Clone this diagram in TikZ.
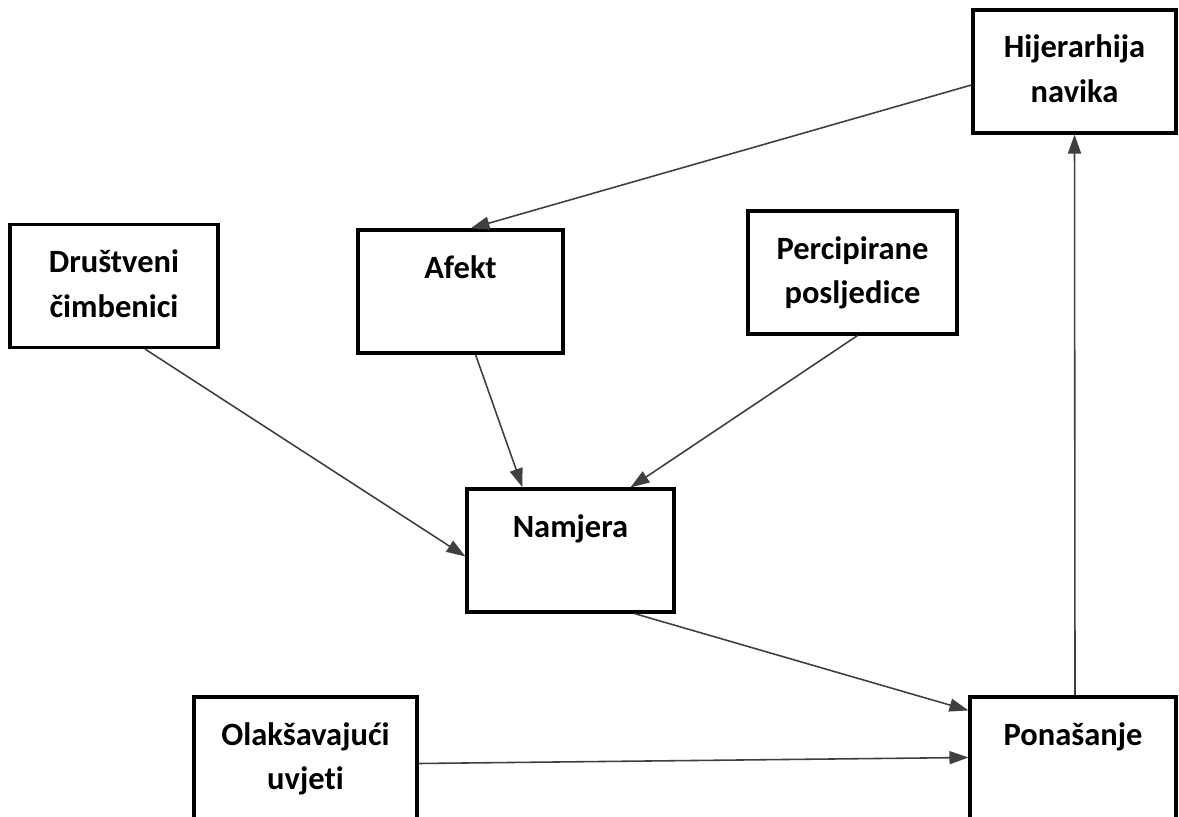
\documentclass[tikz,border=0pt]{standalone}
\usepackage{fontspec}
\setmainfont{Carlito}[Ligatures=CommonOff]
\usepackage{tikz}
\usetikzlibrary{calc,arrows.meta}

\tikzset{
    blok/.style={draw, line width=1.8pt, inner xsep=0pt, inner ysep=0pt, align=center,
        text height=0.96cm, text depth=1.5cm, text width=#1,
        font=\fontsize{18.5}{25.6}\selectfont\bfseries},
    strelica/.style={line width=0.9pt, draw=black!75, -{Triangle[length=0.38cm, width=0.26cm]}}
}

\begin{document}
\begin{tikzpicture}[x=0.02cm, y=-0.02cm]
                            \clip (0,0) rectangle (1179,817);
                            \fill[white] (0,0) rectangle (1179,817);

                            \node[blok=4.06cm] (hijerarhija) at (1074.5,71.5) {Hijerarhija\\navika};
                            \node[blok=4.16cm] (drustveni) at (114,286) {Društveni\\čimbenici};
                            \node[blok=4.10cm] (afekt) at (460.5,291.5) {Afekt};
                            \node[blok=4.18cm] (percipirane) at (852.5,272.5) {Percipirane\\posljedice};
                            \node[blok=4.14cm] (namjera) at (570.5,550.5) {Namjera};
                            \node[blok=4.46cm] (olaksavajuci) at (305.5,758.5) {Olakšavajući\\uvjeti};
                            \node[blok=4.12cm] (ponasanje) at (1073,758.5) {Ponašanje};

                            % veze izmedu blokova
                            \draw[strelica] ($(hijerarhija.west)+(0,13.5)$) -- ($(afekt.north)+(10,0)$);
                            \draw[strelica] ($(drustveni.south)+(31,0)$) -- ($(namjera.west)+(0,6)$);
                            \draw[strelica] ($(afekt.south)+(15,0)$) -- ($(namjera.north)+(-48,0)$);
                            \draw[strelica] ($(percipirane.south)+(5,0)$) -- ($(namjera.north)+(60,0)$);
                            \draw[strelica] ($(namjera.south)+(64,0)$) -- ($(ponasanje.north west)+(0,15)$);
                            \draw[strelica] ($(olaksavajuci.east)+(0,5)$) -- ($(ponasanje.west)+(0,-1)$);
                            \draw[strelica] ($(ponasanje.north)+(2,0)$) -- (hijerarhija.south);
                        \end{tikzpicture}
\end{document}
